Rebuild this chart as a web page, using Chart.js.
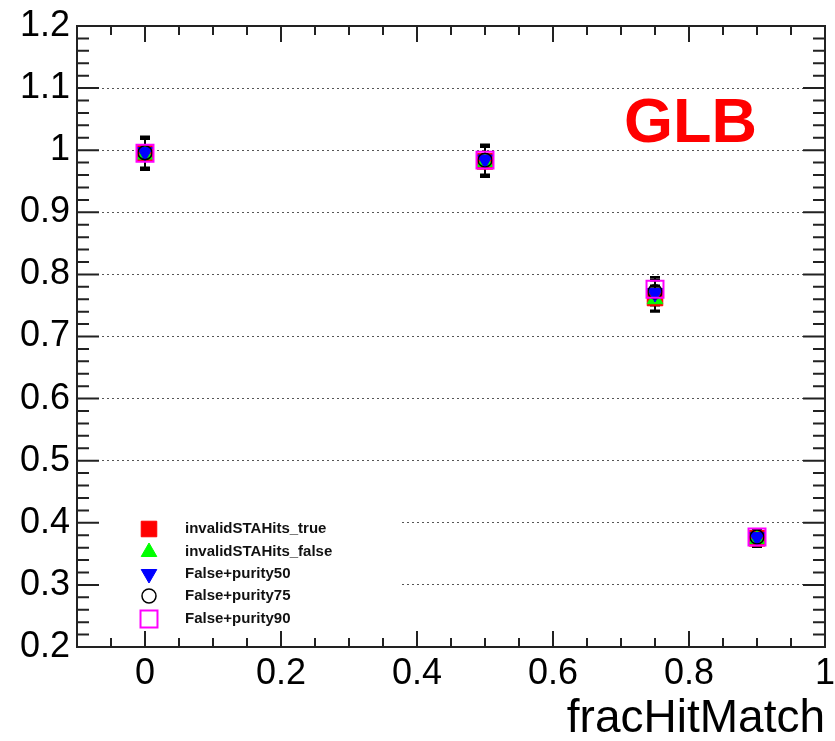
<!DOCTYPE html>
<html>
<head>
<meta charset="utf-8">
<script src="https://cdn.jsdelivr.net/npm/chart.js@4.4.0/dist/chart.umd.min.js"></script>
<style>
html, body { margin: 0; padding: 0; background: #fff; }
</style>
</head>
<body>
<canvas id="myChart" width="835" height="741"></canvas>
<script>
// values
var fracHitMatch = [0, 0.5, 0.75, 0.9];

var effTrue = [0.995, 0.982, 0.762, 0.375];
var errTrue = [0.025, 0.024, 0.020, 0.013];
var effFalse = [0.993, 0.981, 0.760, 0.374];
var errFalse = [0.025, 0.024, 0.020, 0.013];
var effPurity50 = [0.997, 0.985, 0.770, 0.377];
var errPurity50 = [0.025, 0.024, 0.020, 0.013];
var effPurity75 = [0.996, 0.984, 0.772, 0.377];
var errPurity75 = [0.025, 0.024, 0.020, 0.013];
var effPurity90 = [0.995, 0.984, 0.776, 0.377];
var errPurity90 = [0.025, 0.024, 0.020, 0.013];

var seriesNames = ['invalidSTAHits_true', 'invalidSTAHits_false', 'False+purity50', 'False+purity75', 'False+purity90'];

var xTickValues = [0, 0.2, 0.4, 0.6, 0.8, 1];
var xTickLabels = ['0', '0.2', '0.4', '0.6', '0.8', '1'];
var yTickValues = [0.2, 0.3, 0.4, 0.5, 0.6, 0.7, 0.8, 0.9, 1.0, 1.1, 1.2];
var yTickLabels = ['0.2', '0.3', '0.4', '0.5', '0.6', '0.7', '0.8', '0.9', '1', '1.1', '1.2'];

var FONT = '"Liberation Sans", Arial, Helvetica, sans-serif';

function points(vals, errs) {
    return fracHitMatch.map(function (x, i) { return { x: x, y: vals[i], err: errs[i] }; });
}

// white page
var bgPlugin = {
    id: 'bg',
    beforeDraw: function (chart) {
        var ctx = chart.ctx;
        ctx.save();
        ctx.fillStyle = '#fff';
        ctx.fillRect(0, 0, chart.width, chart.height);
        ctx.restore();
    }
};

// vertical error bars, under the markers
var errorBarPlugin = {
    id: 'errorBars',
    beforeDatasetsDraw: function (chart) {
        var ctx = chart.ctx, xs = chart.scales.x, ys = chart.scales.y;
        ctx.save();
        ctx.strokeStyle = '#000';
        ctx.lineWidth = 2;
        chart.data.datasets.forEach(function (ds) {
            ds.data.forEach(function (p) {
                var px = xs.getPixelForValue(p.x);
                var top = ys.getPixelForValue(p.y + p.err);
                var bot = ys.getPixelForValue(p.y - p.err);
                ctx.beginPath();
                ctx.moveTo(px, top); ctx.lineTo(px, bot);
                ctx.moveTo(px - 5, top); ctx.lineTo(px + 5, top);
                ctx.moveTo(px - 5, bot); ctx.lineTo(px + 5, bot);
                ctx.stroke();
            });
        });
        ctx.restore();
    }
};

// legend box, ROOT style frame with inner ticks, GLB label
var framePlugin = {
    id: 'frame',
    afterDraw: function (chart) {
        var ctx = chart.ctx, a = chart.chartArea;
        var xs = chart.scales.x, ys = chart.scales.y;
        ctx.save();

        // legend
        ctx.fillStyle = '#fff';
        ctx.fillRect(a.left + 2, 505, 400 - a.left - 2, 127);
        var rows = [529, 552, 574, 596, 619];
        chart.data.datasets.forEach(function (ds, i) {
            ctx.fillStyle = ds.backgroundColor;
            ctx.strokeStyle = ds.borderColor;
            ctx.lineWidth = ds.pointBorderWidth;
            Chart.helpers.drawPoint(ctx, {
                pointStyle: ds.pointStyle,
                rotation: ds.pointRotation || 0,
                radius: ds.pointRadius,
                borderWidth: ds.pointBorderWidth
            }, 149, rows[i]);
            ctx.fillStyle = '#111';
            ctx.font = 'bold 15px ' + FONT;
            ctx.textAlign = 'left';
            ctx.textBaseline = 'middle';
            ctx.fillText(seriesNames[i], 185, rows[i]);
        });

        // ticks
        ctx.strokeStyle = '#222';
        ctx.lineWidth = 2;
        ctx.beginPath();
        var i, v, py, px, len;
        for (i = 0; i <= 50; i++) {
            v = 0.2 + i * 0.02;
            py = ys.getPixelForValue(v);
            len = (i % 5 === 0) ? 22 : 12;
            ctx.moveTo(a.left, py); ctx.lineTo(a.left + len, py);
            ctx.moveTo(a.right, py); ctx.lineTo(a.right - len, py);
        }
        for (i = 0; i <= 22; i++) {
            v = -0.1 + i * 0.05;
            px = xs.getPixelForValue(v);
            len = ((i - 2) % 4 === 0) ? 16 : 9;
            ctx.moveTo(px, a.bottom); ctx.lineTo(px, a.bottom - len);
            ctx.moveTo(px, a.top); ctx.lineTo(px, a.top + len);
        }
        ctx.stroke();
        ctx.strokeRect(a.left, a.top, a.right - a.left, a.bottom - a.top);

        // GLB
        ctx.fillStyle = '#ff0000';
        ctx.font = 'bold 63px ' + FONT;
        ctx.textAlign = 'left';
        ctx.textBaseline = 'alphabetic';
        ctx.fillText('GLB', 624, 142);
        ctx.restore();
    }
};

var ctx = document.getElementById('myChart').getContext('2d');
var chart = new Chart(ctx, {
    type: 'scatter',
    data: {
        datasets: [{
            label: seriesNames[0],
            data: points(effTrue, errTrue),
            order: 5,
            pointStyle: 'rect',
            pointRadius: 11,
            pointBorderWidth: 1,
            backgroundColor: '#ff0000',
            borderColor: '#ff0000'
        }, {
            label: seriesNames[1],
            data: points(effFalse, errFalse),
            order: 4,
            pointStyle: 'triangle',
            pointRadius: 9,
            pointBorderWidth: 1,
            backgroundColor: '#00ff00',
            borderColor: '#00ff00'
        }, {
            label: seriesNames[2],
            data: points(effPurity50, errPurity50),
            order: 3,
            pointStyle: 'triangle',
            pointRotation: 180,
            pointRadius: 9,
            pointBorderWidth: 1,
            backgroundColor: '#0000ff',
            borderColor: '#0000ff'
        }, {
            label: seriesNames[3],
            data: points(effPurity75, errPurity75),
            order: 2,
            pointStyle: 'circle',
            pointRadius: 7,
            pointBorderWidth: 1.5,
            backgroundColor: 'rgba(0,0,0,0)',
            borderColor: '#000'
        }, {
            label: seriesNames[4],
            data: points(effPurity90, errPurity90),
            order: 1,
            pointStyle: 'rect',
            pointRadius: 12,
            pointBorderWidth: 2,
            backgroundColor: 'rgba(0,0,0,0)',
            borderColor: '#ff00ff'
        }]
    },
    options: {
        responsive: false,
        animation: false,
        events: [],
        layout: { autoPadding: false, padding: { top: 26, right: 10, left: 0, bottom: 0 } },
        plugins: {
            legend: { display: false },
            tooltip: { enabled: false }
        },
        scales: {
            x: {
                type: 'linear',
                min: -0.1,
                max: 1,
                afterBuildTicks: function (scale) {
                    scale.ticks = xTickValues.map(function (v) { return { value: v }; });
                },
                afterFit: function (scale) {
                    scale.height = 94;
                    scale.paddingLeft = 0;
                    scale.paddingRight = 0;
                },
                grid: { display: false, drawTicks: false },
                border: { display: false },
                ticks: {
                    autoSkip: false,
                    maxRotation: 0,
                    padding: 5,
                    color: '#000',
                    font: { family: FONT, size: 36 },
                    callback: function (v, i) { return xTickLabels[i]; }
                },
                title: {
                    display: true,
                    text: 'fracHitMatch',
                    align: 'end',
                    color: '#000',
                    font: { family: FONT, size: 46 },
                    padding: { top: 4, bottom: -6 }
                }
            },
            y: {
                type: 'linear',
                min: 0.2,
                max: 1.2,
                afterBuildTicks: function (scale) {
                    scale.ticks = yTickValues.map(function (v) { return { value: v }; });
                },
                afterFit: function (scale) {
                    scale.width = 77;
                    scale.paddingTop = 0;
                    scale.paddingBottom = 0;
                },
                grid: { drawTicks: false, color: '#555', lineWidth: 1 },
                border: { display: false, dash: [2, 3] },
                ticks: {
                    padding: 7,
                    color: '#000',
                    font: { family: FONT, size: 36 },
                    callback: function (v, i) { return yTickLabels[i]; }
                }
            }
        }
    },
    plugins: [bgPlugin, errorBarPlugin, framePlugin]
});
</script>
</body>
</html>
